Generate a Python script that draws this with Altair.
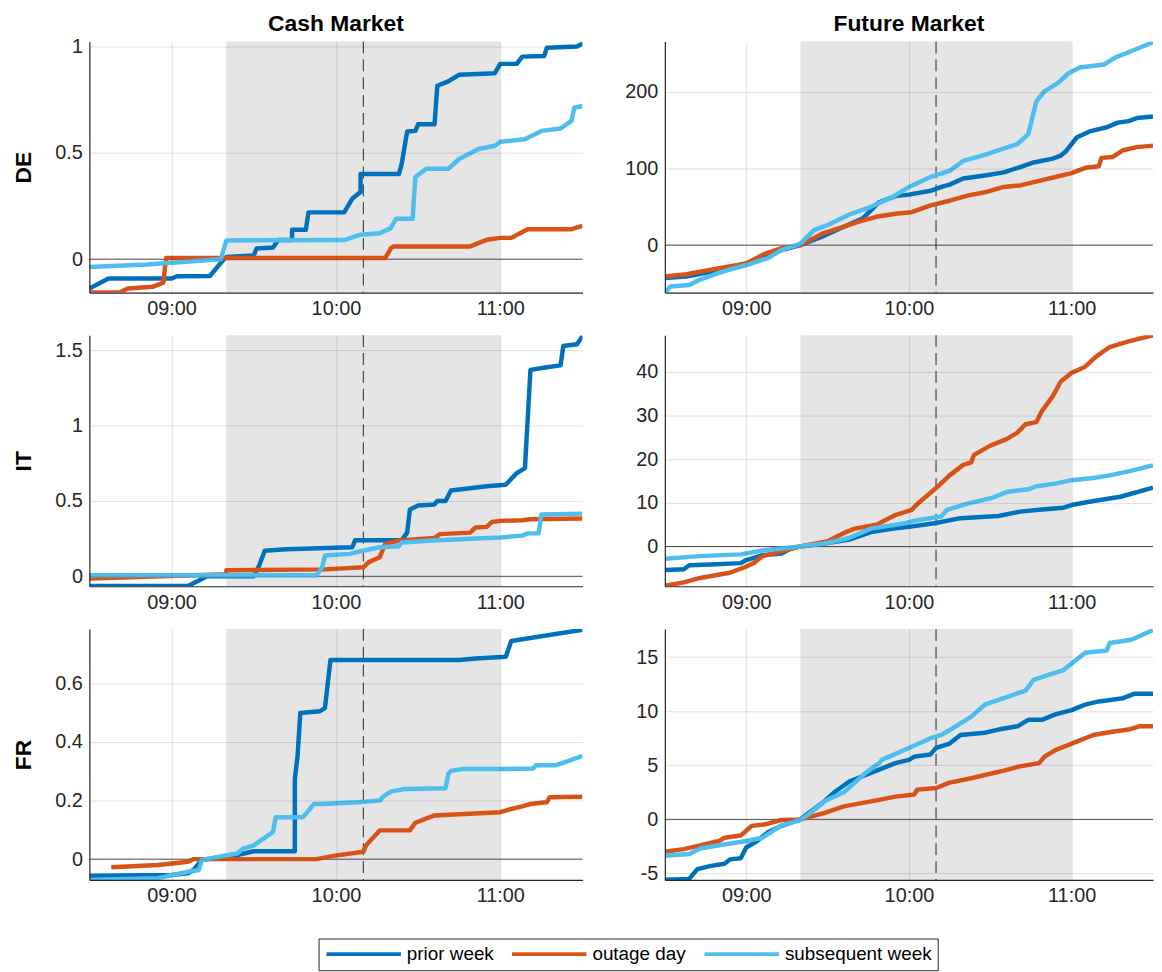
import altair as alt
import pandas as pd

# ---------------- data ----------------
SERIES = ["prior week", "outage day", "subsequent week"]
COLORS = ["#0072BD", "#D95319", "#4DBEEE"]
ROW_LABELS = ["DE", "IT", "FR"]
COL_TITLES = ["Cash Market", "Future Market"]
X_RANGE = ["08:30", "11:30"]
X_TICKS = ["09:00", "10:00", "11:00"]
SHADE_START = ["09:20"]
SHADE_END = ["11:00"]
EVENT_TIME = ["10:10"]

DE_CASH_YRANGE = [-0.157, 1.023]
DE_CASH_YTICKS = [0, 0.5, 1]
DE_FUT_YRANGE = [-62, 266]
DE_FUT_YTICKS = [0, 100, 200]
IT_CASH_YRANGE = [-0.066, 1.6]
IT_CASH_YTICKS = [0, 0.5, 1, 1.5]
IT_FUT_YRANGE = [-9.1, 48.4]
IT_FUT_YTICKS = [0, 10, 20, 30, 40]
FR_CASH_YRANGE = [-0.071, 0.785]
FR_CASH_YTICKS = [0, 0.2, 0.4, 0.6]
FR_FUT_YRANGE = [-5.6, 17.6]
FR_FUT_YTICKS = [-5, 0, 5, 10, 15]

DE_CASH_PRIOR = [("08:30", -0.138), ("08:37", -0.091), ("09:00", -0.091), ("09:02", -0.080), ("09:14", -0.079),
                 ("09:18", -0.017), ("09:20", 0.010), ("09:30", 0.017), ("09:31", 0.050), ("09:37", 0.055),
                 ("09:39", 0.090), ("09:44", 0.090), ("09:44", 0.138), ("09:49", 0.138), ("09:50", 0.220),
                 ("10:03", 0.220), ("10:06", 0.285), ("10:09", 0.316), ("10:09", 0.400), ("10:23", 0.400),
                 ("10:24", 0.448), ("10:26", 0.600), ("10:29", 0.603), ("10:30", 0.634), ("10:36", 0.634),
                 ("10:37", 0.815), ("10:41", 0.836), ("10:45", 0.867), ("10:58", 0.874), ("11:00", 0.918),
                 ("11:06", 0.918), ("11:08", 0.952), ("11:16", 0.955), ("11:17", 0.994), ("11:28", 1.000),
                 ("11:30", 1.014)]
DE_CASH_OUTAGE = [("08:30", -0.157), ("08:41", -0.157), ("08:44", -0.138), ("08:53", -0.130), ("08:57", -0.110),
                  ("08:58", 0.005), ("10:18", 0.005), ("10:20", 0.050), ("10:21", 0.060), ("10:49", 0.060),
                  ("10:55", 0.091), ("11:00", 0.100), ("11:04", 0.100), ("11:10", 0.141), ("11:26", 0.141),
                  ("11:30", 0.157)]
DE_CASH_SUBSEQ = [("08:30", -0.037), ("08:51", -0.025), ("09:18", 0.000), ("09:20", 0.088), ("10:03", 0.090),
                  ("10:09", 0.115), ("10:16", 0.122), ("10:20", 0.146), ("10:22", 0.190), ("10:28", 0.190),
                  ("10:29", 0.386), ("10:33", 0.425), ("10:41", 0.425), ("10:45", 0.471), ("10:52", 0.518),
                  ("10:58", 0.533), ("11:00", 0.552), ("11:09", 0.564), ("11:15", 0.603), ("11:22", 0.614),
                  ("11:26", 0.650), ("11:27", 0.712), ("11:30", 0.720)]

DE_FUT_PRIOR = [("08:30", -43), ("08:38", -41), ("08:47", -35), ("09:00", -24), ("09:06", -15), ("09:13", -6.5),
                ("09:20", 0), ("09:28", 11), ("09:36", 24), ("09:43", 35), ("09:49", 56), ("09:55", 64),
                ("10:00", 66), ("10:08", 71), ("10:12", 76), ("10:15", 79), ("10:20", 87), ("10:28", 91),
                ("10:35", 95), ("10:41", 102), ("10:46", 108), ("10:53", 113), ("10:56", 117), ("10:58", 123),
                ("11:02", 141), ("11:07", 149), ("11:13", 154), ("11:17", 160), ("11:21", 162), ("11:24", 166),
                ("11:30", 168)]
DE_FUT_OUTAGE = [("08:30", -41), ("08:38", -38), ("08:47", -32), ("09:00", -24), ("09:07", -11), ("09:13", -4),
                 ("09:20", 0), ("09:28", 15), ("09:36", 24), ("09:41", 30), ("09:48", 37), ("09:55", 41),
                 ("10:01", 43), ("10:08", 52), ("10:15", 58), ("10:22", 65), ("10:28", 69), ("10:35", 76),
                 ("10:41", 78), ("10:48", 84), ("10:54", 89), ("11:00", 94), ("11:05", 101), ("11:10", 103),
                 ("11:11", 114), ("11:15", 115), ("11:19", 124), ("11:24", 128), ("11:30", 130)]
DE_FUT_SUBSEQ = [("08:30", -63), ("08:32", -54), ("08:39", -52), ("08:43", -45), ("08:51", -35), ("09:00", -26),
                 ("09:08", -17), ("09:13", -6.5), ("09:20", 2), ("09:25", 19.5), ("09:30", 26), ("09:38", 40),
                 ("09:46", 50), ("09:54", 63), ("10:00", 76), ("10:08", 89), ("10:15", 97), ("10:20", 110),
                 ("10:28", 118), ("10:34", 125), ("10:40", 132), ("10:44", 145), ("10:47", 188), ("10:50", 201),
                 ("10:55", 212), ("10:59", 225), ("11:03", 232), ("11:12", 236), ("11:16", 245), ("11:23", 255),
                 ("11:30", 265)]

IT_CASH_PRIOR = [("08:30", -0.064), ("09:06", -0.064), ("09:13", 0.000), ("09:30", 0.000), ("09:32", 0.072),
                 ("09:34", 0.170), ("09:42", 0.180), ("10:06", 0.193), ("10:07", 0.240), ("10:24", 0.240),
                 ("10:26", 0.290), ("10:27", 0.444), ("10:30", 0.470), ("10:36", 0.477), ("10:37", 0.500),
                 ("10:40", 0.500), ("10:42", 0.569), ("10:55", 0.598), ("11:02", 0.608), ("11:06", 0.685),
                 ("11:09", 0.718), ("11:11", 1.370), ("11:17", 1.387), ("11:22", 1.400), ("11:23", 1.528),
                 ("11:28", 1.540), ("11:30", 1.594)]
IT_CASH_OUTAGE = [("08:30", -0.015), ("09:20", 0.013), ("09:20", 0.040), ("09:56", 0.046), ("10:10", 0.060),
                  ("10:12", 0.094), ("10:16", 0.127), ("10:18", 0.215), ("10:24", 0.240), ("10:36", 0.254),
                  ("10:38", 0.280), ("10:49", 0.290), ("10:51", 0.324), ("10:55", 0.328), ("10:57", 0.361),
                  ("11:00", 0.368), ("11:08", 0.372), ("11:11", 0.379), ("11:30", 0.383)]
IT_CASH_SUBSEQ = [("08:30", 0.007), ("09:53", 0.007), ("09:55", 0.060), ("09:56", 0.138), ("10:05", 0.149),
                  ("10:09", 0.166), ("10:16", 0.193), ("10:23", 0.200), ("10:24", 0.225), ("10:34", 0.236),
                  ("10:47", 0.247), ("11:00", 0.258), ("11:08", 0.270), ("11:10", 0.285), ("11:14", 0.285),
                  ("11:15", 0.410), ("11:30", 0.416)]

IT_FUT_PRIOR = [("08:30", -5.4), ("08:37", -5.2), ("08:39", -4.3), ("08:47", -4.1), ("08:58", -3.8), ("09:00", -3.1),
                ("09:06", -2.0), ("09:13", -1.6), ("09:17", -0.3), ("09:20", 0.0), ("09:30", 0.8), ("09:38", 1.6),
                ("09:46", 3.3), ("09:55", 4.2), ("10:00", 4.5), ("10:10", 5.4), ("10:19", 6.5), ("10:33", 7.0),
                ("10:41", 8.0), ("10:49", 8.5), ("10:57", 8.9), ("11:00", 9.5), ("11:07", 10.3), ("11:18", 11.4),
                ("11:30", 13.5)]
IT_FUT_OUTAGE = [("08:30", -9.0), ("08:37", -8.2), ("08:43", -7.2), ("08:54", -6.0), ("09:00", -4.6), ("09:03", -3.7),
                 ("09:06", -2.2), ("09:13", -1.1), ("09:20", 0.0), ("09:30", 1.2), ("09:36", 3.1), ("09:40", 4.1),
                 ("09:48", 5.0), ("09:55", 7.2), ("10:01", 8.4), ("10:03", 9.7), ("10:07", 11.8), ("10:10", 13.4),
                 ("10:15", 16.3), ("10:20", 18.7), ("10:23", 19.3), ("10:24", 21.0), ("10:30", 23.1), ("10:36", 24.6),
                 ("10:40", 26.1), ("10:43", 28.0), ("10:47", 28.5), ("10:49", 31.0), ("10:53", 34.4), ("10:56", 37.8),
                 ("11:00", 39.8), ("11:05", 41.2), ("11:09", 43.5), ("11:14", 45.7), ("11:21", 47.0), ("11:30", 48.4)]
IT_FUT_SUBSEQ = [("08:30", -2.8), ("08:43", -2.2), ("08:58", -1.8), ("09:06", -0.9), ("09:20", 0.0), ("09:30", 0.8),
                 ("09:38", 2.0), ("09:46", 4.1), ("09:59", 5.4), ("10:02", 5.9), ("10:12", 6.9), ("10:14", 8.4),
                 ("10:22", 9.9), ("10:31", 11.2), ("10:36", 12.5), ("10:44", 13.1), ("10:47", 13.8), ("10:54", 14.4),
                 ("11:00", 15.2), ("11:08", 15.7), ("11:14", 16.3), ("11:21", 17.2), ("11:30", 18.6)]

FR_CASH_PRIOR = [("08:30", -0.057), ("09:00", -0.054), ("09:06", -0.048), ("09:08", -0.037), ("09:11", -0.003),
                 ("09:24", 0.014), ("09:30", 0.027), ("09:45", 0.027), ("09:45", 0.273), ("09:46", 0.352),
                 ("09:47", 0.498), ("09:54", 0.504), ("09:56", 0.515), ("09:58", 0.679), ("10:45", 0.679),
                 ("10:51", 0.684), ("11:02", 0.690), ("11:04", 0.744), ("11:30", 0.782)]
FR_CASH_OUTAGE = [("08:38", -0.028), ("08:55", -0.020), ("09:06", -0.009), ("09:08", 0.000), ("09:53", 0.000),
                  ("09:59", 0.011), ("10:10", 0.025), ("10:11", 0.047), ("10:16", 0.098), ("10:27", 0.098),
                  ("10:29", 0.124), ("10:36", 0.149), ("10:47", 0.154), ("11:00", 0.160), ("11:04", 0.171),
                  ("11:08", 0.180), ("11:11", 0.188), ("11:17", 0.194), ("11:18", 0.211), ("11:30", 0.213)]
FR_CASH_SUBSEQ = [("08:30", -0.071), ("08:55", -0.065), ("09:06", -0.043), ("09:10", -0.037), ("09:11", -0.003),
                  ("09:19", 0.011), ("09:24", 0.019), ("09:26", 0.036), ("09:30", 0.047), ("09:37", 0.092),
                  ("09:38", 0.143), ("09:48", 0.143), ("09:52", 0.188), ("09:55", 0.188), ("10:08", 0.194),
                  ("10:16", 0.200), ("10:17", 0.211), ("10:20", 0.230), ("10:25", 0.239), ("10:40", 0.242),
                  ("10:41", 0.290), ("10:42", 0.301), ("10:46", 0.307), ("11:00", 0.307), ("11:12", 0.309),
                  ("11:13", 0.320), ("11:20", 0.320), ("11:25", 0.335), ("11:30", 0.352)]

FR_FUT_PRIOR = [("08:30", -5.57), ("08:39", -5.5), ("08:42", -4.6), ("08:47", -4.3), ("08:52", -4.1), ("08:54", -3.7),
                ("08:58", -3.6), ("09:00", -2.6), ("09:04", -2.0), ("09:08", -1.2), ("09:13", -0.6), ("09:20", 0.0),
                ("09:28", 1.5), ("09:33", 2.6), ("09:38", 3.5), ("09:49", 4.6), ("09:55", 5.2), ("10:00", 5.5),
                ("10:02", 5.8), ("10:08", 6.0), ("10:10", 6.6), ("10:15", 7.0), ("10:19", 7.8), ("10:28", 8.0),
                ("10:33", 8.3), ("10:40", 8.6), ("10:44", 9.2), ("10:49", 9.2), ("10:54", 9.7), ("11:00", 10.1),
                ("11:05", 10.6), ("11:10", 10.9), ("11:19", 11.2), ("11:23", 11.6), ("11:30", 11.6)]
FR_FUT_OUTAGE = [("08:30", -3.0), ("08:37", -2.75), ("08:43", -2.4), ("08:50", -2.0), ("08:52", -1.7), ("08:58", -1.5),
                 ("09:02", -0.6), ("09:07", -0.46), ("09:13", -0.06), ("09:20", 0.0), ("09:29", 0.6), ("09:36", 1.2),
                 ("09:49", 1.8), ("09:55", 2.1), ("10:02", 2.3), ("10:03", 2.75), ("10:10", 2.9), ("10:15", 3.4),
                 ("10:23", 3.8), ("10:28", 4.1), ("10:35", 4.5), ("10:41", 4.9), ("10:48", 5.2), ("10:50", 5.8),
                 ("10:54", 6.4), ("11:00", 7.0), ("11:08", 7.8), ("11:15", 8.1), ("11:21", 8.3), ("11:25", 8.6),
                 ("11:30", 8.6)]
FR_FUT_SUBSEQ = [("08:30", -3.37), ("08:39", -3.2), ("08:43", -2.7), ("08:50", -2.4), ("09:00", -2.0), ("09:06", -1.7),
                 ("09:13", -0.55), ("09:20", -0.06), ("09:23", 0.46), ("09:29", 1.7), ("09:36", 2.5), ("09:44", 4.3),
                 ("09:49", 5.2), ("09:50", 5.5), ("10:00", 6.6), ("10:08", 7.5), ("10:12", 7.8), ("10:16", 8.4),
                 ("10:23", 9.5), ("10:28", 10.6), ("10:36", 11.3), ("10:43", 11.9), ("10:46", 12.9), ("10:52", 13.4),
                 ("10:57", 13.8), ("11:00", 14.4), ("11:05", 15.4), ("11:13", 15.6), ("11:14", 16.3), ("11:22", 16.6),
                 ("11:30", 17.5)]

# ---------------- style ----------------
FONT = "Liberation Sans"
H = 253
W_LEFT = 497
W_RIGHT = 492
AXIS_COLOR = "#262626"


def hours(s):
    h, m = s.split(":")
    return int(h) + int(m) / 60.0


def panel(series_lists, yrange, yticks, width, row_label, col_title, extent, title_offset=1):
    rows = []
    for name, pairs in zip(SERIES, series_lists):
        for i, (t, v) in enumerate(pairs):
            rows.append({"series": name, "t": hours(t), "v": v, "i": i})
    df = pd.DataFrame(rows)

    xs = alt.Scale(domain=[hours(X_RANGE[0]), hours(X_RANGE[1])], nice=False, zero=False)
    ys = alt.Scale(domain=yrange, nice=False, zero=False)
    xaxis = alt.Axis(values=[hours(t) for t in X_TICKS],
                     labelExpr="(datum.value < 10 ? '0' : '') + datum.value + ':00'",
                     grid=True, gridColor="#000000", gridOpacity=0.12, gridWidth=1,
                     ticks=False, domainColor=AXIS_COLOR, domainWidth=1.2,
                     labelFontSize=20, labelColor=AXIS_COLOR, labelPadding=6, labelFont=FONT,
                     zindex=1)
    yaxis_kw = dict(values=yticks, labelExpr="datum.value + ''", grid=True, gridColor="#000000",
                    gridOpacity=0.12, gridWidth=1, ticks=False, domainColor=AXIS_COLOR, domainWidth=1.2,
                    labelFontSize=20, labelColor=AXIS_COLOR, labelPadding=7, labelFont=FONT,
                    minExtent=extent, maxExtent=extent, zindex=1)
    if row_label:
        yaxis = alt.Axis(title=row_label, titleFontSize=23, titleFontWeight="bold", titleColor="#000000",
                         titleFont=FONT, titlePadding=20, **yaxis_kw)
    else:
        yaxis = alt.Axis(title=None, **yaxis_kw)

    shade_df = pd.DataFrame({"a": [hours(s) for s in SHADE_START], "b": [hours(s) for s in SHADE_END]})
    event_df = pd.DataFrame({"e": [hours(s) for s in EVENT_TIME]})
    zero_df = pd.DataFrame({"z": [0]})

    shade = alt.Chart(shade_df).mark_rect(color="#e5e5e5").encode(
        x=alt.X("a:Q", scale=xs, axis=xaxis, title=None),
        x2="b:Q",
        y=alt.value(0),
        y2=alt.value(H),
    )
    zero = alt.Chart(zero_df).mark_rule(color="#555555", strokeWidth=1).encode(
        y=alt.Y("z:Q", scale=ys, axis=yaxis),
    )
    event = alt.Chart(event_df).mark_rule(color=AXIS_COLOR, strokeWidth=1, strokeDash=[12, 6]).encode(
        x=alt.X("e:Q", scale=xs, axis=xaxis, title=None),
    )
    lines = alt.Chart(df).mark_line(strokeWidth=4.5, clip=True, strokeJoin="round").encode(
        x=alt.X("t:Q", scale=xs, axis=xaxis, title=None),
        y=alt.Y("v:Q", scale=ys, axis=yaxis),
        color=alt.Color("series:N", scale=alt.Scale(domain=SERIES, range=COLORS),
                        legend=alt.Legend(orient="none", legendX=231, legendY=904, direction="horizontal",
                                          title=None, symbolType="stroke", symbolSize=5625,
                                          symbolStrokeWidth=4, clipHeight=19, labelFontSize=19,
                                          labelFont=FONT, labelColor="#000000", labelOffset=4,
                                          columnPadding=16, padding=6, strokeColor=AXIS_COLOR,
                                          fillColor="#ffffff", labelLimit=300)),
        order=alt.Order("i:Q"),
        detail="series:N",
    )
    ch = alt.layer(shade, zero, event, lines).properties(width=width, height=H)
    if col_title:
        ch = ch.properties(title=alt.TitleParams(col_title, fontSize=23, fontWeight="bold", color="#000000",
                                                 font=FONT, offset=title_offset, anchor="middle",
                                                 frame="group"))
    return ch


panels = [
    panel([DE_CASH_PRIOR, DE_CASH_OUTAGE, DE_CASH_SUBSEQ], DE_CASH_YRANGE, DE_CASH_YTICKS, W_LEFT,
          ROW_LABELS[0], COL_TITLES[0], 34, 1),
    panel([DE_FUT_PRIOR, DE_FUT_OUTAGE, DE_FUT_SUBSEQ], DE_FUT_YRANGE, DE_FUT_YTICKS, W_RIGHT,
          None, COL_TITLES[1], 40, 5),
    panel([IT_CASH_PRIOR, IT_CASH_OUTAGE, IT_CASH_SUBSEQ], IT_CASH_YRANGE, IT_CASH_YTICKS, W_LEFT,
          ROW_LABELS[1], None, 34),
    panel([IT_FUT_PRIOR, IT_FUT_OUTAGE, IT_FUT_SUBSEQ], IT_FUT_YRANGE, IT_FUT_YTICKS, W_RIGHT,
          None, None, 40),
    panel([FR_CASH_PRIOR, FR_CASH_OUTAGE, FR_CASH_SUBSEQ], FR_CASH_YRANGE, FR_CASH_YTICKS, W_LEFT,
          ROW_LABELS[2], None, 34),
    panel([FR_FUT_PRIOR, FR_FUT_OUTAGE, FR_FUT_SUBSEQ], FR_FUT_YRANGE, FR_FUT_YTICKS, W_RIGHT,
          None, None, 40),
]

chart = alt.concat(*panels, columns=2, spacing={"row": 43, "column": 83}, bounds="flush").resolve_scale(
    x="independent", y="independent", color="shared"
).resolve_legend(color="shared").properties(
    padding={"left": 5, "top": 0, "right": 0, "bottom": 0}
).configure(font=FONT).configure_view(stroke=None)

chart.save("out.html", embed_options={"renderer": "svg", "actions": False})
